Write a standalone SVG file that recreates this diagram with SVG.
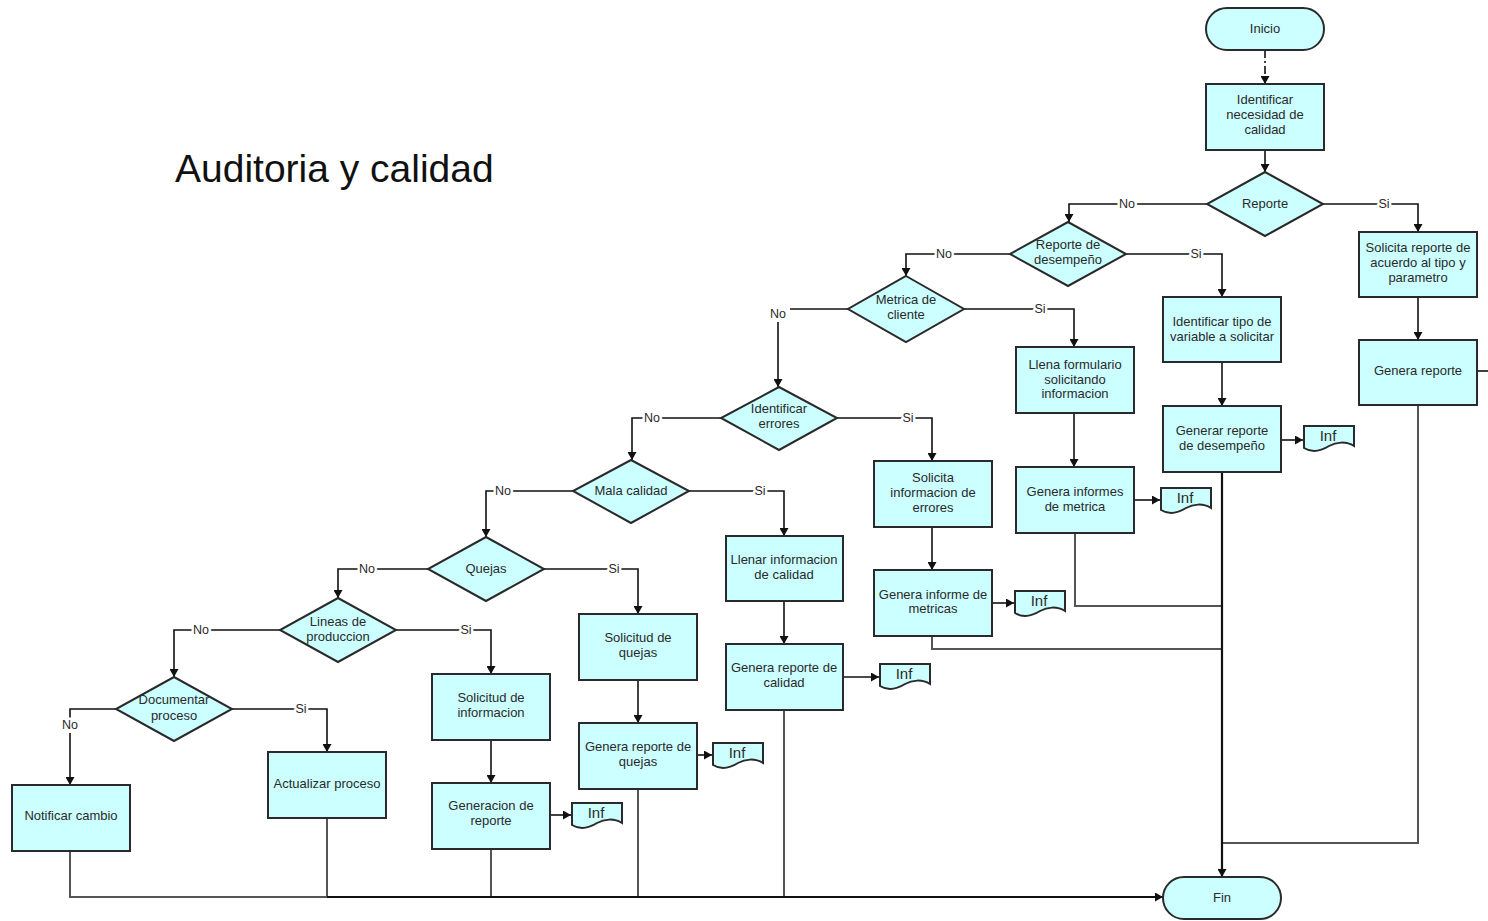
<svg xmlns="http://www.w3.org/2000/svg" width="1488" height="921" viewBox="0 0 1488 921">
  <defs>
    <marker id="arrow" markerUnits="userSpaceOnUse" markerWidth="9" markerHeight="9" refX="8" refY="4.5" orient="auto">
      <path d="M0,0 L8,4.5 L0,9 z" fill="#111"/>
    </marker>
    <path id="docShape" d="M0,0 H50 V20 C42,15 32,16 25,20 C17,25 8,27 0,22 Z"/>
  </defs>
  <style>
    .box { fill: #ccffff; stroke: #2a2a2a; stroke-width: 2; }
    .t { font-family: "Liberation Sans", Arial, sans-serif; font-size: 13px; fill: #2a2a2a; text-anchor: middle; }
    .lbl { font-family: "Liberation Sans", Arial, sans-serif; font-size: 12.5px; fill: #2a2a2a; text-anchor: middle; stroke: #fff; stroke-width: 5px; paint-order: stroke; stroke-linejoin: round; }
    .inf { font-family: "Liberation Sans", Arial, sans-serif; font-size: 15px; fill: #2a2a2a; text-anchor: middle; }
    .c { fill: none; stroke: #111; stroke-width: 1.6; }
    .ca { fill: none; stroke: #111; stroke-width: 1.6; marker-end: url(#arrow); }
    .g { fill: none; stroke: #555; stroke-width: 2; }
    .trunk { fill: none; stroke: #111; stroke-width: 2.2; marker-end: url(#arrow); }
  </style>

  <rect width="1488" height="921" fill="#fff"/>

  <text x="175" y="182" font-family="Liberation Sans, Arial, sans-serif" font-size="39" fill="#111">Auditoria y calidad</text>

  <!-- connectors -->
  <g id="connectors">
    <path class="ca" d="M1265,50 V84" stroke-dasharray="8,3,2,3"/>
    <path class="ca" d="M1265,150 V172"/>
    <!-- Reporte -->
    <path class="ca" d="M1207,204 H1069 V222"/>
    <path class="ca" d="M1323,204 H1418 V232"/>
    <path class="ca" d="M1418,297 V340"/>
    <path class="c" d="M1477,371 H1488"/>
    <!-- Reporte de desempeño -->
    <path class="ca" d="M1010,254 H906 V276"/>
    <path class="ca" d="M1126,254 H1222 V297"/>
    <path class="ca" d="M1222,362 V406"/>
    <path class="ca" d="M1281,440 H1303"/>
    <!-- Metrica de cliente -->
    <path class="c" d="M848,309 H790"/>
    <path class="ca" d="M778,322 V387"/>
    <path class="ca" d="M964,309 H1074 V347"/>
    <path class="ca" d="M1074,413 V467"/>
    <path class="ca" d="M1134,500 H1160"/>
    <!-- Identificar errores -->
    <path class="ca" d="M721,418 H632 V460"/>
    <path class="ca" d="M837,418 H932 V461"/>
    <path class="ca" d="M932,527 V570"/>
    <path class="ca" d="M992,603 H1014"/>
    <!-- Mala calidad -->
    <path class="ca" d="M573,491 H486 V537"/>
    <path class="ca" d="M689,491 H784 V536"/>
    <path class="ca" d="M784,601 V644"/>
    <path class="ca" d="M843,677 H879"/>
    <!-- Quejas -->
    <path class="ca" d="M428,569 H338 V598"/>
    <path class="ca" d="M544,569 H638 V614"/>
    <path class="ca" d="M638,680 V723"/>
    <path class="ca" d="M697,755 H712"/>
    <!-- Lineas de produccion -->
    <path class="ca" d="M280,630 H174 V677"/>
    <path class="ca" d="M396,630 H491 V674"/>
    <path class="ca" d="M491,740 V783"/>
    <path class="ca" d="M550,815 H571"/>
    <!-- Documentar proceso -->
    <path class="c" d="M116,709 H70 V718"/>
    <path class="ca" d="M70,733 V785"/>
    <path class="ca" d="M232,709 H327 V752"/>
    <!-- returns to Fin -->
    <path class="g" d="M1075,533 V606 H1222"/>
    <path class="g" d="M932,636 V649 H1222"/>
    <path class="g" d="M1418,405 V843 H1222"/>
    <path class="g" d="M70,851 V897 H327"/>
    <path class="g" d="M327,818 V897"/>
    <path class="g" d="M491,849 V897"/>
    <path class="g" d="M638,789 V897"/>
    <path class="g" d="M784,710 V897"/>
    <path class="trunk" d="M327,897 H1163"/>
    <path class="trunk" d="M1222,472 V877"/>
    <!-- branch labels -->
    <text class="lbl" x="1127" y="208">No</text>
    <text class="lbl" x="1384" y="208">Si</text>
    <text class="lbl" x="944" y="258">No</text>
    <text class="lbl" x="1196" y="258">Si</text>
    <text class="lbl" x="778" y="318">No</text>
    <text class="lbl" x="1040" y="313">Si</text>
    <text class="lbl" x="652" y="422">No</text>
    <text class="lbl" x="908" y="422">Si</text>
    <text class="lbl" x="503" y="495">No</text>
    <text class="lbl" x="760" y="495">Si</text>
    <text class="lbl" x="367" y="573">No</text>
    <text class="lbl" x="614" y="573">Si</text>
    <text class="lbl" x="201" y="634">No</text>
    <text class="lbl" x="466" y="634">Si</text>
    <text class="lbl" x="70" y="729">No</text>
    <text class="lbl" x="301" y="713">Si</text>
  </g>

  <!-- terminators -->
  <g id="inicio">
    <rect class="box" x="1206" y="8" width="118" height="42" rx="21"/>
    <text class="t" x="1265" y="33">Inicio</text>
  </g>
  <g id="fin">
    <rect class="box" x="1163" y="877" width="118" height="42" rx="21"/>
    <text class="t" x="1222" y="902">Fin</text>
  </g>

  <!-- process boxes -->
  <g id="identificar-necesidad">
    <rect class="box" x="1206" y="84" width="118" height="66"/>
    <text class="t" x="1265" y="104">Identificar</text>
    <text class="t" x="1265" y="119">necesidad de</text>
    <text class="t" x="1265" y="134">calidad</text>
  </g>
  <g id="solicita-reporte">
    <rect class="box" x="1359" y="232" width="118" height="65"/>
    <text class="t" x="1418" y="252">Solicita reporte de</text>
    <text class="t" x="1418" y="267">acuerdo al tipo y</text>
    <text class="t" x="1418" y="282">parametro</text>
  </g>
  <g id="genera-reporte">
    <rect class="box" x="1359" y="340" width="118" height="65"/>
    <text class="t" x="1418" y="375">Genera reporte</text>
  </g>
  <g id="identificar-tipo">
    <rect class="box" x="1163" y="297" width="118" height="65"/>
    <text class="t" x="1222" y="326">Identificar tipo de</text>
    <text class="t" x="1222" y="341">variable a solicitar</text>
  </g>
  <g id="generar-reporte-desempeno">
    <rect class="box" x="1163" y="406" width="118" height="66"/>
    <text class="t" x="1222" y="435">Generar reporte</text>
    <text class="t" x="1222" y="450">de desempeño</text>
  </g>
  <g id="llena-formulario">
    <rect class="box" x="1016" y="347" width="118" height="66"/>
    <text class="t" x="1075" y="369">Llena formulario</text>
    <text class="t" x="1075" y="384">solicitando</text>
    <text class="t" x="1075" y="398">informacion</text>
  </g>
  <g id="genera-informes-metrica">
    <rect class="box" x="1016" y="467" width="118" height="66"/>
    <text class="t" x="1075" y="496">Genera informes</text>
    <text class="t" x="1075" y="511">de metrica</text>
  </g>
  <g id="solicita-informacion-errores">
    <rect class="box" x="874" y="461" width="118" height="66"/>
    <text class="t" x="933" y="482">Solicita</text>
    <text class="t" x="933" y="497">informacion de</text>
    <text class="t" x="933" y="512">errores</text>
  </g>
  <g id="genera-informe-metricas">
    <rect class="box" x="874" y="570" width="118" height="66"/>
    <text class="t" x="933" y="599">Genera informe de</text>
    <text class="t" x="933" y="613">metricas</text>
  </g>
  <g id="llenar-informacion-calidad">
    <rect class="box" x="726" y="536" width="117" height="65"/>
    <text class="t" x="784" y="564">Llenar informacion</text>
    <text class="t" x="784" y="579">de calidad</text>
  </g>
  <g id="genera-reporte-calidad">
    <rect class="box" x="726" y="644" width="117" height="66"/>
    <text class="t" x="784" y="672">Genera reporte de</text>
    <text class="t" x="784" y="687">calidad</text>
  </g>
  <g id="solicitud-quejas">
    <rect class="box" x="579" y="614" width="118" height="66"/>
    <text class="t" x="638" y="642">Solicitud de</text>
    <text class="t" x="638" y="657">quejas</text>
  </g>
  <g id="genera-reporte-quejas">
    <rect class="box" x="579" y="723" width="118" height="66"/>
    <text class="t" x="638" y="751">Genera reporte de</text>
    <text class="t" x="638" y="766">quejas</text>
  </g>
  <g id="solicitud-informacion">
    <rect class="box" x="432" y="674" width="118" height="66"/>
    <text class="t" x="491" y="702">Solicitud de</text>
    <text class="t" x="491" y="717">informacion</text>
  </g>
  <g id="generacion-reporte">
    <rect class="box" x="432" y="783" width="118" height="66"/>
    <text class="t" x="491" y="810">Generacion de</text>
    <text class="t" x="491" y="825">reporte</text>
  </g>
  <g id="actualizar-proceso">
    <rect class="box" x="268" y="752" width="118" height="66"/>
    <text class="t" x="327" y="788">Actualizar proceso</text>
  </g>
  <g id="notificar-cambio">
    <rect class="box" x="12" y="785" width="118" height="66"/>
    <text class="t" x="71" y="820">Notificar cambio</text>
  </g>

  <!-- decisions -->
  <g id="d-reporte">
    <polygon class="box" points="1265,172 1323,204 1265,236 1207,204"/>
    <text class="t" x="1265" y="208">Reporte</text>
  </g>
  <g id="d-reporte-desempeno">
    <polygon class="box" points="1068,222 1126,254 1068,286 1010,254"/>
    <text class="t" x="1068" y="249">Reporte de</text>
    <text class="t" x="1068" y="264">desempeño</text>
  </g>
  <g id="d-metrica-cliente">
    <polygon class="box" points="906,276 964,309 906,342 848,309"/>
    <text class="t" x="906" y="304">Metrica de</text>
    <text class="t" x="906" y="319">cliente</text>
  </g>
  <g id="d-identificar-errores">
    <polygon class="box" points="779,387 837,418 779,450 721,418"/>
    <text class="t" x="779" y="413">Identificar</text>
    <text class="t" x="779" y="428">errores</text>
  </g>
  <g id="d-mala-calidad">
    <polygon class="box" points="631,460 689,491 631,523 573,491"/>
    <text class="t" x="631" y="495">Mala calidad</text>
  </g>
  <g id="d-quejas">
    <polygon class="box" points="486,537 544,569 486,601 428,569"/>
    <text class="t" x="486" y="573">Quejas</text>
  </g>
  <g id="d-lineas-produccion">
    <polygon class="box" points="338,598 396,630 338,662 280,630"/>
    <text class="t" x="338" y="626">Lineas de</text>
    <text class="t" x="338" y="641">produccion</text>
  </g>
  <g id="d-documentar-proceso">
    <polygon class="box" points="174,677 232,709 174,741 116,709"/>
    <text class="t" x="174" y="704">Documentar</text>
    <text class="t" x="174" y="720">proceso</text>
  </g>

  <!-- documents -->
  <g id="doc-desempeno" transform="translate(1304,426)">
    <use href="#docShape" class="box"/>
    <text class="inf" x="24" y="15">Inf</text>
  </g>
  <g id="doc-metrica" transform="translate(1161,488)">
    <use href="#docShape" class="box"/>
    <text class="inf" x="24" y="15">Inf</text>
  </g>
  <g id="doc-metricas" transform="translate(1015,591)">
    <use href="#docShape" class="box"/>
    <text class="inf" x="24" y="15">Inf</text>
  </g>
  <g id="doc-calidad" transform="translate(880,664)">
    <use href="#docShape" class="box"/>
    <text class="inf" x="24" y="15">Inf</text>
  </g>
  <g id="doc-quejas" transform="translate(713,743)">
    <use href="#docShape" class="box"/>
    <text class="inf" x="24" y="15">Inf</text>
  </g>
  <g id="doc-reporte" transform="translate(572,803)">
    <use href="#docShape" class="box"/>
    <text class="inf" x="24" y="15">Inf</text>
  </g>
</svg>
